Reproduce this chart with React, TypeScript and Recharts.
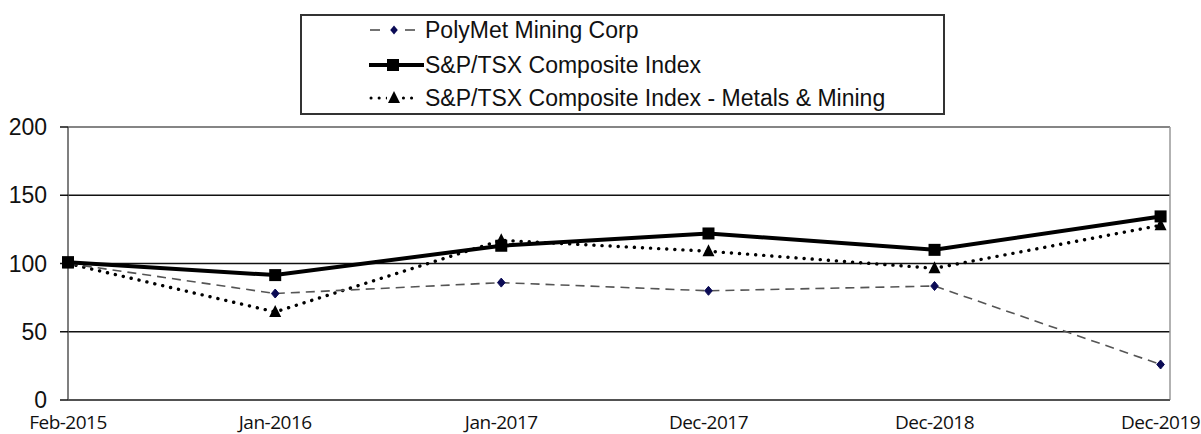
import React from "react";
import {
  LineChart,
  Line,
  XAxis,
  YAxis,
  CartesianGrid,
  Legend,
  ReferenceLine,
} from "recharts";

// Categories (date labels) and their month offsets from Feb-2015
const categories = ["Feb-2015", "Jan-2016", "Jan-2017", "Dec-2017", "Dec-2018", "Dec-2019"];
const monthOffsets = [0, 11, 23, 34, 46, 58];

// Series values
const polymet = [100, 78, 86, 80, 83.5, 26];
const tsx = [101, 91.5, 113, 122, 110, 134.5];
const metals = [100, 64.5, 117, 109, 96.5, 128];

const yTicks = [0, 50, 100, 150, 200];

const seriesNames = [
  "PolyMet Mining Corp",
  "S&P/TSX Composite Index",
  "S&P/TSX Composite Index - Metals & Mining",
];

const data = categories.map((c, i) => ({
  m: monthOffsets[i],
  label: c,
  polymet: polymet[i],
  tsx: tsx[i],
  metals: metals[i],
}));

const labelFor = (v: number) => {
  const i = monthOffsets.indexOf(v);
  return i >= 0 ? categories[i] : "";
};

const SANS = '"Liberation Sans", Arial, sans-serif';

const DiamondDot = (props: any) => {
  const { cx, cy, index } = props;
  if (cx == null || cy == null) return <g key={`pd-${index}`} />;
  return (
    <path
      key={`pd-${index}`}
      d={`M${cx},${cy - 4.5}L${cx + 3.8},${cy}L${cx},${cy + 4.5}L${cx - 3.8},${cy}Z`}
      fill="#0b0b55"
      stroke="#0b0b55"
      strokeWidth={1}
    />
  );
};

const SquareDot = (props: any) => {
  const { cx, cy, index } = props;
  if (cx == null || cy == null) return <g key={`sq-${index}`} />;
  return <rect key={`sq-${index}`} x={cx - 6} y={cy - 6} width={12} height={12} fill="#000" />;
};

const TriangleDot = (props: any) => {
  const { cx, cy, index } = props;
  if (cx == null || cy == null) return <g key={`tr-${index}`} />;
  return (
    <path
      key={`tr-${index}`}
      d={`M${cx},${cy - 7}L${cx + 6},${cy + 5}L${cx - 6},${cy + 5}Z`}
      fill="#000"
    />
  );
};

const rowCenters = [14, 49, 82];

const LegendSymbol = ({ i }: { i: number }) => {
  if (i === 0) {
    return (
      <svg width={56} height={20} style={{ display: "block" }}>
        <line x1={1} y1={10} x2={11} y2={10} stroke="#444" strokeWidth={1.5} />
        <line x1={36} y1={10} x2={46} y2={10} stroke="#444" strokeWidth={1.5} />
        <path d="M25,5.5L28.8,10L25,14.5L21.2,10Z" fill="#0b0b55" />
      </svg>
    );
  }
  if (i === 1) {
    return (
      <svg width={56} height={20} style={{ display: "block" }}>
        <line x1={0} y1={10} x2={55} y2={10} stroke="#000" strokeWidth={4} />
        <rect x={18} y={4} width={12} height={12} fill="#000" />
      </svg>
    );
  }
  return (
    <svg width={56} height={20} style={{ display: "block" }}>
      <line
        x1={2}
        y1={10}
        x2={47}
        y2={10}
        stroke="#000"
        strokeWidth={3}
        strokeLinecap="round"
        strokeDasharray="0.1 8"
      />
      <rect x={18} y={4} width={14} height={12} fill="#fff" />
      <path d="M25,3L31,15L19,15Z" fill="#000" />
    </svg>
  );
};

const LegendBox = () => (
  <div
    style={{
      position: "relative",
      width: 645,
      height: 101,
      border: "2px solid #333",
      boxSizing: "border-box",
      background: "#fff",
    }}
  >
    {seriesNames.map((name, i) => (
      <div
        key={name}
        style={{
          position: "absolute",
          left: 67,
          top: rowCenters[i] - 17,
          height: 34,
          display: "flex",
          alignItems: "center",
          whiteSpace: "nowrap",
        }}
      >
        <LegendSymbol i={i} />
        <span
          style={{
            fontFamily: SANS,
            fontSize: 23,
            color: "#111",
          }}
        >
          {name}
        </span>
      </div>
    ))}
  </div>
);

export default function App() {
  return (
    <div style={{ position: "absolute", left: 0, top: 0, width: 1201, height: 434, background: "#fff" }}>
      <LineChart
        width={1201}
        height={434}
        data={data}
        margin={{ top: 127, right: 31, bottom: 0, left: 0 }}
      >
        <CartesianGrid horizontal={true} vertical={false} stroke="#111" strokeWidth={1.5} />
        <ReferenceLine y={200} stroke="#999" strokeWidth={1.5} />
        <ReferenceLine x={58.5} stroke="#999" strokeWidth={1.5} />
        <XAxis
          dataKey="m"
          type="number"
          domain={[0, 58.5]}
          ticks={monthOffsets}
          tickFormatter={labelFor}
          interval={0}
          height={34}
          tickLine={false}
          tickSize={6}
          tickMargin={10}
          axisLine={{ stroke: "#555", strokeWidth: 1.5 }}
          tick={{ fill: "#111", fontSize: 19, letterSpacing: -0.5, fontFamily: '"Open Sans", sans-serif' }}
        />
        <YAxis
          type="number"
          domain={[0, 200]}
          ticks={yTicks}
          width={68}
          tickSize={8}
          tickMargin={13}
          tickLine={{ stroke: "#111", strokeWidth: 1.5 }}
          axisLine={{ stroke: "#555", strokeWidth: 1.5 }}
          tick={{ fill: "#111", fontSize: 23, fontFamily: SANS }}
        />
        <Legend
          layout="horizontal"
          verticalAlign="middle"
          align="center"
          content={() => <LegendBox />}
          wrapperStyle={{ position: "absolute", left: 300, top: 14, width: 645, height: 101 }}
        />
        <Line
          type="linear"
          dataKey="metals"
          name={seriesNames[2]}
          stroke="#000"
          strokeWidth={3.4}
          strokeLinecap="round"
          strokeDasharray="0.1 8"
          dot={<TriangleDot />}
          activeDot={false}
          isAnimationActive={false}
        />
        <Line
          type="linear"
          dataKey="polymet"
          name={seriesNames[0]}
          stroke="#555"
          strokeWidth={1.6}
          strokeDasharray="9 6"
          dot={<DiamondDot />}
          activeDot={false}
          isAnimationActive={false}
        />
        <Line
          type="linear"
          dataKey="tsx"
          name={seriesNames[1]}
          stroke="#000"
          strokeWidth={4}
          dot={<SquareDot />}
          activeDot={false}
          isAnimationActive={false}
        />
      </LineChart>
    </div>
  );
}
